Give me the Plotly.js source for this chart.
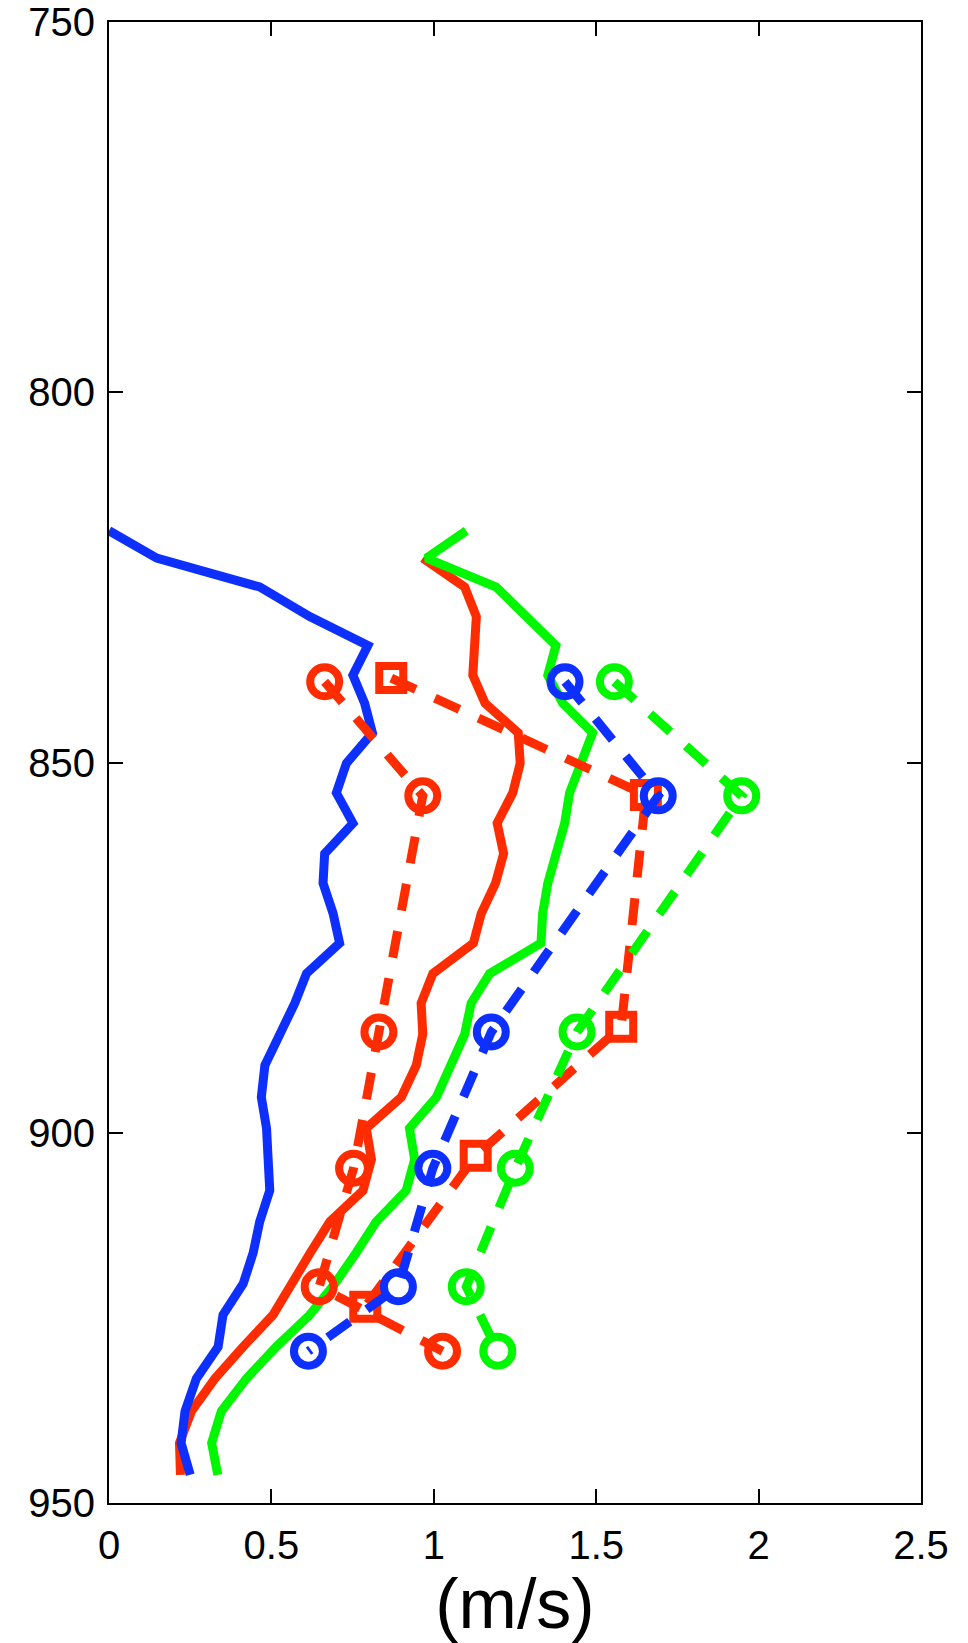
<!DOCTYPE html>
<html>
<head>
<meta charset="utf-8">
<script src="https://cdn.plot.ly/plotly-3.0.1.min.js"></script>
<style>
  html, body { margin: 0; padding: 0; background: #ffffff; }
  #chart { width: 968px; height: 1643px; }
</style>
</head>
<body>
<div id="chart"></div>
<script>
// ---- Data ----
// Pressure levels (hPa) of the solid profiles
const solidLevels = [818.7, 822.4, 826.3, 830.3, 834.2, 838.2, 842.0, 846.0, 850.1, 854.1,
                     858.2, 862.3, 866.3, 870.4, 874.4, 878.5, 882.5, 886.7, 890.9, 895.2,
                     899.4, 903.6, 907.8, 912.0, 916.2, 920.4, 924.6, 928.9, 933.2, 937.6,
                     941.9, 946.2];
const redSolidLevels = [822.4, 826.3, 830.3, 834.2, 838.2, 842.0, 846.0, 850.1, 854.1,
                     858.2, 862.3, 866.3, 870.4, 874.4, 878.5, 882.5, 886.7, 890.9, 895.2,
                     899.4, 903.6, 907.8, 912.0, 916.2, 920.4, 924.6, 928.9, 933.2, 937.6,
                     941.9, 946.2];

const blueSolid = [0.000, 0.147, 0.464, 0.618, 0.797, 0.751, 0.787, 0.811, 0.731, 0.700,
                   0.751, 0.664, 0.659, 0.690, 0.710, 0.608, 0.572, 0.526, 0.480, 0.469,
                   0.485, 0.490, 0.495, 0.464, 0.444, 0.413, 0.351, 0.336, 0.269, 0.234,
                   0.222, 0.250];
const redSolid = [0.966, 1.095, 1.131, 1.128, 1.120, 1.158, 1.260, 1.266, 1.243,
                  1.195, 1.215, 1.190, 1.146, 1.122, 0.997, 0.961, 0.966, 0.946, 0.900,
                  0.792, 0.808, 0.782, 0.680, 0.620, 0.560, 0.505, 0.413, 0.326, 0.254,
                  0.217, 0.220];
const greenSolid = [1.100, 0.977, 1.192, 1.284, 1.376, 1.351, 1.397, 1.489, 1.453, 1.418,
                    1.403, 1.376, 1.351, 1.335, 1.330, 1.172, 1.115, 1.095, 1.054, 1.008,
                    0.925, 0.941, 0.915, 0.823, 0.761, 0.695, 0.618, 0.515, 0.423, 0.346,
                    0.316, 0.335];

// Observation levels (dashed profiles)
const circleLevels = [839.1, 854.5, 886.4, 904.8, 920.8, 929.5];
const squareLevels = [838.6, 854.4, 885.7, 903.1, 923.5];

const redCircles   = [0.664, 0.966, 0.831, 0.753, 0.647, 1.027];
const blueCircles  = [1.404, 1.691, 1.177, 0.997, 0.891, 0.614];
const greenCircles = [1.556, 1.948, 1.441, 1.251, 1.100, 1.197];
const redSquares   = [0.869, 1.653, 1.577, 1.129, 0.789];

const xTickVals = [0, 0.5, 1, 1.5, 2, 2.5];
const xTickText = ["0", "0.5", "1", "1.5", "2", "2.5"];
const yTickVals = [750, 800, 850, 900, 950];
const yTickText = ["750", "800", "850", "900", "950"];
const xTitle = "(m/s)";

// ---- Styles ----
const BLUE = "#0D2FFF", RED = "#FF2C00", GREEN = "#00F700";
const LW = 9;
const DASH = "27px,21px";
const FONT = "Liberation Sans, Arial, Helvetica, sans-serif";

function solid(x, y, c) {
  return {x: x, y: y, type: "scatter", mode: "lines",
          line: {color: c, width: LW}, hoverinfo: "skip"};
}
function dashed(x, y, c, sym, size) {
  return {x: x, y: y, type: "scatter", mode: "lines+markers",
          line: {color: c, width: LW, dash: DASH},
          marker: {symbol: sym, size: size, color: "rgba(0,0,0,0)", line: {color: c, width: 8}},
          hoverinfo: "skip"};
}

const traces = [
  solid(redSolid, redSolidLevels, RED),
  solid(greenSolid, solidLevels, GREEN),
  solid(blueSolid, solidLevels, BLUE),
  dashed(redCircles, circleLevels, RED, "circle", 29),
  dashed(redSquares, squareLevels, RED, "square", 24),
  dashed(greenCircles, circleLevels, GREEN, "circle", 29),
  dashed(blueCircles, circleLevels, BLUE, "circle", 29)
];

const axisCommon = {
  showgrid: false, zeroline: false,
  showline: true, linecolor: "#000", linewidth: 2,
  mirror: "ticks", ticks: "inside", ticklen: 14, tickwidth: 2, tickcolor: "#000",
  tickfont: {family: FONT, size: 40, color: "#000"}
};

const layout = {
  width: 968, height: 1643,
  margin: {l: 109, r: 47, t: 22, b: 140, pad: 0},
  paper_bgcolor: "#fff", plot_bgcolor: "#fff",
  showlegend: false,
  font: {family: FONT, color: "#000"},
  xaxis: Object.assign({}, axisCommon, {
    range: [0, 2.5], tickmode: "array", tickvals: xTickVals, ticktext: xTickText,
    ticklabelstandoff: 6,
    title: {text: xTitle, font: {family: FONT, size: 70, color: "#000"}, standoff: 0}
  }),
  yaxis: Object.assign({}, axisCommon, {
    range: [950, 750], tickmode: "array", tickvals: yTickVals, ticktext: yTickText,
    ticklabelstandoff: 4
  })
};

Plotly.newPlot("chart", traces, layout, {staticPlot: true, displayModeBar: false});
</script>
</body>
</html>
